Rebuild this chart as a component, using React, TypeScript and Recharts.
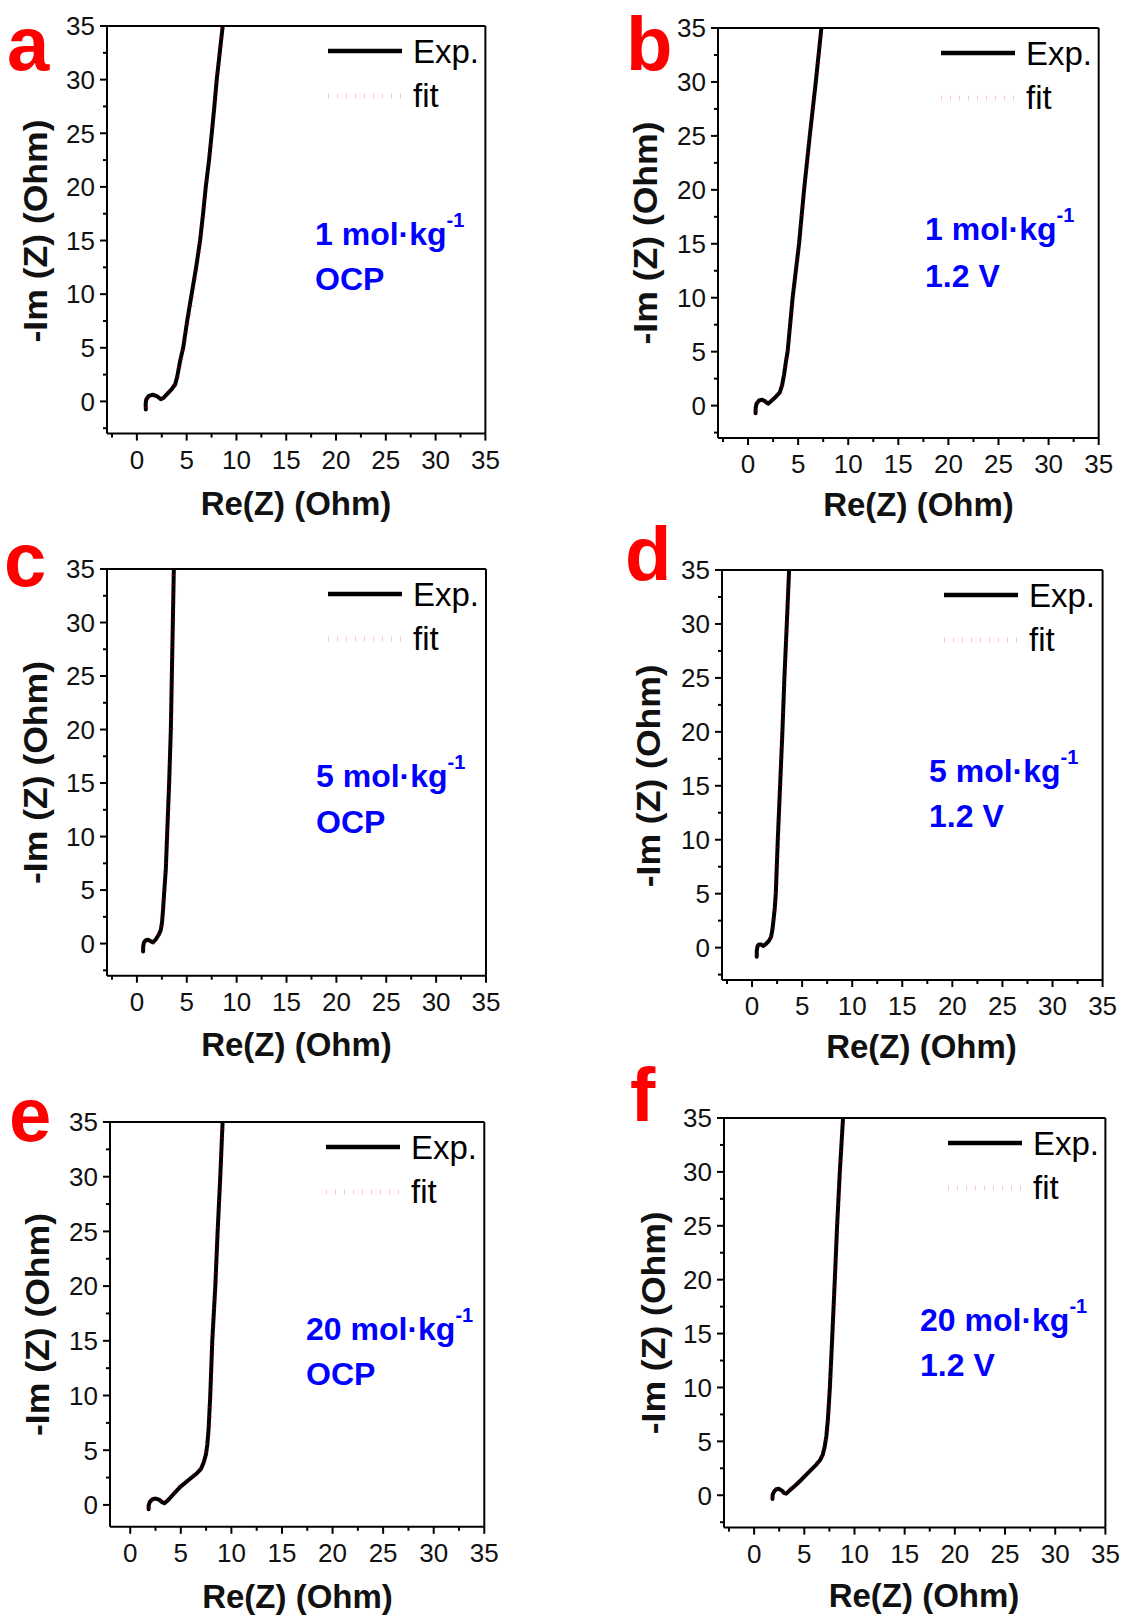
import React from "react";
import { LineChart, Line, XAxis, YAxis, ReferenceLine, Legend } from "recharts";

const FONT = '"Liberation Sans", Arial, Helvetica, sans-serif';

// a: 1 mol/kg, OCP
const aExpRe = [0.9, 0.88, 0.95, 1.2, 1.6, 2.0, 2.4, 2.7, 3.1, 3.5, 3.85, 4.05, 4.35, 4.65, 5.05, 5.5, 5.95, 6.35, 6.65, 6.92, 7.25, 7.52, 7.78, 8.02, 8.32, 8.62];
const aExpIm = [-0.75, -0.2, 0.2, 0.52, 0.62, 0.5, 0.2, 0.35, 0.75, 1.15, 1.6, 2.3, 3.8, 5.0, 7.5, 10.0, 12.5, 15.0, 17.5, 20.0, 22.5, 25.0, 27.5, 30.0, 32.5, 35.0];
const aFitRe = [0.92, 0.95, 1.25, 1.65, 2.05, 2.45, 2.95, 3.45, 3.8, 4.1, 4.7, 5.2, 5.65, 6.4, 6.95, 7.55, 8.05, 8.65];
const aFitIm = [-0.6, 0.15, 0.5, 0.6, 0.48, 0.25, 0.55, 1.0, 1.5, 2.4, 5.0, 7.5, 10.0, 15.0, 20.0, 25.0, 30.0, 35.0];

// b: 1 mol/kg, 1.2 V
const bExpRe = [0.75, 0.76, 0.85, 1.1, 1.4, 1.7, 2.0, 2.4, 2.8, 3.16, 3.4, 3.6, 3.8, 3.95, 4.45, 5.09, 5.59, 6.16, 6.76, 7.32];
const bExpIm = [-0.7, -0.2, 0.2, 0.48, 0.55, 0.4, 0.18, 0.5, 0.85, 1.2, 1.9, 2.9, 4.2, 5.0, 10.0, 15.0, 20.0, 25.0, 30.0, 35.0];
const bFitRe = [0.78, 0.85, 1.15, 1.45, 1.75, 2.05, 2.5, 3.0, 3.4, 3.7, 4.0, 4.5, 5.12, 5.62, 6.2, 6.8, 7.35];
const bFitIm = [-0.55, 0.15, 0.45, 0.52, 0.38, 0.2, 0.55, 1.0, 1.8, 3.2, 5.0, 10.0, 15.0, 20.0, 25.0, 30.0, 35.0];

// c: 5 mol/kg, OCP
const cExpRe = [0.62, 0.62, 0.7, 0.9, 1.15, 1.4, 1.6, 1.9, 2.2, 2.4, 2.52, 2.62, 2.75, 2.9, 3.02, 3.23, 3.4, 3.5, 3.6, 3.7];
const cExpIm = [-0.75, -0.3, 0.1, 0.32, 0.35, 0.2, 0.12, 0.4, 0.85, 1.3, 2.0, 3.2, 5.0, 7.0, 10.0, 15.0, 20.0, 25.0, 30.0, 35.0];
const cFitRe = [0.65, 0.72, 0.92, 1.18, 1.45, 1.65, 2.0, 2.3, 2.5, 2.65, 2.78, 3.04, 3.25, 3.42, 3.52, 3.62, 3.72];
const cFitIm = [-0.6, 0.12, 0.3, 0.33, 0.18, 0.14, 0.5, 1.0, 1.9, 3.3, 5.0, 10.0, 15.0, 20.0, 25.0, 30.0, 35.0];

// d: 5 mol/kg, 1.2 V
const dExpRe = [0.47, 0.47, 0.55, 0.7, 0.9, 1.13, 1.4, 1.7, 1.9, 2.03, 2.15, 2.27, 2.37, 2.57, 2.8, 3.03, 3.23, 3.47, 3.7];
const dExpIm = [-0.85, -0.3, 0.15, 0.3, 0.28, 0.16, 0.35, 0.65, 1.0, 1.64, 2.6, 3.7, 5.0, 10.0, 15.0, 20.0, 25.0, 30.0, 35.0];
const dFitRe = [0.5, 0.57, 0.72, 0.92, 1.15, 1.45, 1.75, 1.95, 2.1, 2.3, 2.4, 2.6, 2.82, 3.05, 3.25, 3.49, 3.72];
const dFitIm = [-0.7, 0.12, 0.28, 0.27, 0.17, 0.38, 0.7, 1.1, 1.9, 3.8, 5.0, 10.0, 15.0, 20.0, 25.0, 30.0, 35.0];

// e: 20 mol/kg, OCP
const eExpRe = [1.82, 1.82, 1.95, 2.2, 2.5, 2.85, 3.15, 3.38, 3.7, 4.3, 4.95, 5.8, 6.6, 7.0, 7.25, 7.48, 7.62, 7.75, 7.91, 8.11, 8.41, 8.64, 8.9, 9.13];
const eExpIm = [-0.4, -0.05, 0.3, 0.52, 0.58, 0.48, 0.25, 0.15, 0.4, 1.0, 1.65, 2.3, 2.9, 3.3, 3.85, 4.6, 5.5, 7.0, 10.0, 15.0, 20.0, 25.0, 30.0, 35.0];
const eFitRe = [1.85, 1.98, 2.25, 2.55, 2.9, 3.2, 3.45, 3.8, 4.4, 5.05, 5.9, 6.65, 7.05, 7.3, 7.52, 7.66, 7.8, 7.95, 8.15, 8.44, 8.67, 8.93, 9.16];
const eFitIm = [-0.3, 0.3, 0.5, 0.56, 0.45, 0.24, 0.18, 0.5, 1.15, 1.8, 2.4, 3.0, 3.4, 3.95, 4.7, 5.6, 7.0, 10.0, 15.0, 20.0, 25.0, 30.0, 35.0];

// f: 20 mol/kg, 1.2 V
const fExpRe = [1.83, 1.85, 2.0, 2.2, 2.45, 2.75, 3.0, 3.2, 3.6, 4.1, 4.55, 5.4, 6.2, 6.6, 6.85, 7.05, 7.2, 7.35, 7.55, 7.8, 8.04, 8.27, 8.54, 8.86];
const fExpIm = [-0.35, 0.05, 0.35, 0.55, 0.6, 0.45, 0.2, 0.15, 0.5, 0.9, 1.3, 2.1, 2.85, 3.3, 3.8, 4.6, 5.5, 7.0, 10.0, 15.0, 20.0, 25.0, 30.0, 35.0];
const fFitRe = [1.86, 2.02, 2.25, 2.5, 2.8, 3.05, 3.25, 3.65, 4.2, 4.65, 5.5, 6.25, 6.65, 6.9, 7.1, 7.25, 7.4, 7.58, 7.83, 8.07, 8.3, 8.57, 8.88];
const fFitIm = [-0.25, 0.35, 0.52, 0.58, 0.43, 0.2, 0.17, 0.55, 1.0, 1.4, 2.2, 2.9, 3.35, 3.85, 4.7, 5.6, 7.0, 10.0, 15.0, 20.0, 25.0, 30.0, 35.0];

const ticksFrom3 = [-2.5, 0, 2.5, 5, 7.5, 10, 12.5, 15, 17.5, 20, 22.5, 25, 27.5, 30, 32.5, 35];
const ticksFrom2 = [0, 2.5, 5, 7.5, 10, 12.5, 15, 17.5, 20, 22.5, 25, 27.5, 30, 32.5, 35];

const seriesNames = ["Exp.", "fit"];

const toPoints = (re: number[], im: number[]) => re.map((r, i) => ({ re: r, im: im[i] }));

type PanelDef = {
  letter: string;
  exp: { re: number[]; im: number[] };
  fit: { re: number[]; im: number[] };
  xMin: number;
  yMin: number;
  xTicks: number[];
  yTicks: number[];
  box: [number, number, number, number];
  letterPos: [number, number];
  note: [string, string];
  notePos: [number, number, number];
  xTitle: [number, number];
  yTitle: [number, number];
};

const panels: PanelDef[] = [
  {
    letter: "a",
    exp: { re: aExpRe, im: aExpIm },
    fit: { re: aFitRe, im: aFitIm },
    xMin: -3, yMin: -3, xTicks: ticksFrom3, yTicks: ticksFrom3,
    box: [107.3, 25.7, 485.7, 433.3],
    letterPos: [7, 70],
    note: ["1 mol·kg", "OCP"],
    notePos: [315, 245, 290],
    xTitle: [296, 515],
    yTitle: [47, 231],
  },
  {
    letter: "b",
    exp: { re: bExpRe, im: bExpIm },
    fit: { re: bFitRe, im: bFitIm },
    xMin: -3, yMin: -3, xTicks: ticksFrom3, yTicks: ticksFrom3,
    box: [718.3, 27.7, 1099, 437.7],
    letterPos: [626, 70],
    note: ["1 mol·kg", "1.2 V"],
    notePos: [925, 240, 286.7],
    xTitle: [918.5, 516],
    yTitle: [657, 233],
  },
  {
    letter: "c",
    exp: { re: cExpRe, im: cExpIm },
    fit: { re: cFitRe, im: cFitIm },
    xMin: -3, yMin: -3, xTicks: ticksFrom3, yTicks: ticksFrom3,
    box: [107.3, 569, 486.3, 975.7],
    letterPos: [4, 586],
    note: ["5 mol·kg", "OCP"],
    notePos: [316, 787.3, 833.3],
    xTitle: [296.5, 1056],
    yTitle: [47, 772.5],
  },
  {
    letter: "d",
    exp: { re: dExpRe, im: dExpIm },
    fit: { re: dFitRe, im: dFitIm },
    xMin: -3, yMin: -3, xTicks: ticksFrom3, yTicks: ticksFrom3,
    box: [721.7, 570, 1102.3, 980],
    letterPos: [625, 580],
    note: ["5 mol·kg", "1.2 V"],
    notePos: [929, 781.7, 827.3],
    xTitle: [921.5, 1058],
    yTitle: [660, 775.8],
  },
  {
    letter: "e",
    exp: { re: eExpRe, im: eExpIm },
    fit: { re: eFitRe, im: eFitIm },
    xMin: -2, yMin: -2, xTicks: ticksFrom2, yTicks: ticksFrom2,
    box: [109.7, 1122, 484, 1526.8],
    letterPos: [9, 1141],
    note: ["20 mol·kg", "OCP"],
    notePos: [306, 1339.8, 1385],
    xTitle: [297.5, 1608],
    yTitle: [48.5, 1324.5],
  },
  {
    letter: "f",
    exp: { re: fExpRe, im: fExpIm },
    fit: { re: fFitRe, im: fFitIm },
    xMin: -3, yMin: -3, xTicks: ticksFrom3, yTicks: ticksFrom3,
    box: [724.3, 1118.3, 1105.7, 1527.9],
    letterPos: [630, 1121],
    note: ["20 mol·kg", "1.2 V"],
    notePos: [920, 1331.3, 1375.7],
    xTitle: [924, 1606.5],
    yTitle: [665, 1322.8],
  },
];

const XTick = (props: any) => {
  const { x, y, payload } = props;
  const v = payload.value;
  const major = v % 5 === 0;
  return (
    <g>
      <line x1={x} x2={x} y1={y} y2={y + (major ? 7 : 4)} stroke="#000" strokeWidth={2} />
      {major && (
        <text x={x} y={y + 35} textAnchor="middle" fontSize={26} fontFamily={FONT} fill="#111">
          {v}
        </text>
      )}
    </g>
  );
};

const YTick = (props: any) => {
  const { x, y, payload } = props;
  const v = payload.value;
  const major = v % 5 === 0;
  return (
    <g>
      <line x1={x} x2={x - (major ? 7 : 4)} y1={y} y2={y} stroke="#000" strokeWidth={2} />
      {major && (
        <text x={x - 12} y={y + 9.3} textAnchor="end" fontSize={26} fontFamily={FONT} fill="#111">
          {v}
        </text>
      )}
    </g>
  );
};

const LegendBox = (props: any) => {
  const items = props.payload && props.payload.length ? props.payload : seriesNames.map((n) => ({ value: n }));
  return (
    <svg width={180} height={100} style={{ display: "block" }}>
      {items.map((it: any, i: number) => {
        const ly = i === 0 ? 25 : 70;
        const ty = i === 0 ? 37 : 81;
        return (
          <g key={i}>
            {i === 0 ? (
              <line x1={0} x2={74} y1={ly} y2={ly} stroke="#000" strokeWidth={4.5} />
            ) : (
              <line x1={0} x2={74} y1={ly} y2={ly} stroke="#ff0000" strokeOpacity={0.22} strokeWidth={5} strokeDasharray="1 8" />
            )}
            <text x={85} y={ty} fontSize={33} fontFamily={FONT} fill="#000">
              {it.value}
            </text>
          </g>
        );
      })}
    </svg>
  );
};

function Panel({ p }: { p: PanelDef }) {
  const [l, t, r, b] = p.box;
  const W = r - l + 130;
  const H = b - t + 90;
  return (
    <div style={{ position: "absolute", left: l - 100, top: t - 30, width: W, height: H }}>
      <LineChart width={W} height={H} margin={{ top: 30, right: 30, left: 40, bottom: 20 }}>
        <XAxis
          type="number"
          dataKey="re"
          domain={[p.xMin, 35]}
          allowDataOverflow
          ticks={p.xTicks}
          interval={0}
          height={40}
          tickSize={0}
          tickMargin={0}
          tickLine={false}
          axisLine={{ stroke: "#000", strokeWidth: 2 }}
          tick={(tp: any) => <XTick {...tp} />}
        />
        <YAxis
          type="number"
          dataKey="im"
          domain={[p.yMin, 35]}
          allowDataOverflow
          ticks={p.yTicks}
          interval={0}
          width={60}
          tickSize={0}
          tickMargin={0}
          tickLine={false}
          axisLine={{ stroke: "#000", strokeWidth: 2 }}
          tick={(tp: any) => <YTick {...tp} />}
        />
        <ReferenceLine y={35} stroke="#000" strokeWidth={2} />
        <ReferenceLine x={35} stroke="#000" strokeWidth={2} />
        <Line
          data={toPoints(p.exp.re, p.exp.im)}
          dataKey="im"
          name={seriesNames[0]}
          type="linear"
          stroke="#000"
          strokeWidth={4}
          strokeLinejoin="round"
          strokeLinecap="round"
          dot={false}
          isAnimationActive={false}
        />
        <Line
          data={toPoints(p.fit.re, p.fit.im)}
          dataKey="im"
          name={seriesNames[1]}
          type="linear"
          stroke="#ff0000"
          strokeOpacity={0.3}
          strokeWidth={5}
          strokeDasharray="1 8"
          dot={false}
          isAnimationActive={false}
        />
        <Legend
          layout="horizontal"
          verticalAlign="middle"
          align="center"
          content={LegendBox}
          wrapperStyle={{ left: r - l - 58, top: 30, width: 180, height: 100, margin: 0 }}
        />
      </LineChart>
    </div>
  );
}

function Labels() {
  return (
    <svg
      width={1121}
      height={1616}
      style={{ position: "absolute", left: 0, top: 0, pointerEvents: "none" }}
    >
      {panels.map((p) => (
        <g key={p.letter} fontFamily={FONT}>
          <text x={p.letterPos[0]} y={p.letterPos[1]} fontSize={76} fontWeight="bold" fill="#ff0000">
            {p.letter}
          </text>
          <text x={p.notePos[0]} y={p.notePos[1]} fontSize={32} fontWeight="bold" fill="#0000ff">
            {p.note[0]}
            <tspan fontSize={20} dy={-18}>-1</tspan>
          </text>
          <text x={p.notePos[0]} y={p.notePos[2]} fontSize={32} fontWeight="bold" fill="#0000ff">
            {p.note[1]}
          </text>
          <text
            x={p.xTitle[0]}
            y={p.xTitle[1]}
            textAnchor="middle"
            fontSize={33}
            fontWeight="bold"
            fill="#111"
          >
            Re(Z) (Ohm)
          </text>
          <text
            x={p.yTitle[0]}
            y={p.yTitle[1]}
            textAnchor="middle"
            fontSize={33}
            fontWeight="bold"
            fill="#111"
            textLength={223}
            lengthAdjust="spacingAndGlyphs"
            transform={`rotate(-90, ${p.yTitle[0]}, ${p.yTitle[1]})`}
          >
            -Im (Z) (Ohm)
          </text>
        </g>
      ))}
    </svg>
  );
}

export default function App() {
  return (
    <div
      style={{
        position: "absolute",
        left: 0,
        top: 0,
        width: 1121,
        height: 1616,
        overflow: "hidden",
        background: "#fff",
      }}
    >
      {panels.map((p) => (
        <Panel key={p.letter} p={p} />
      ))}
      <Labels />
    </div>
  );
}
